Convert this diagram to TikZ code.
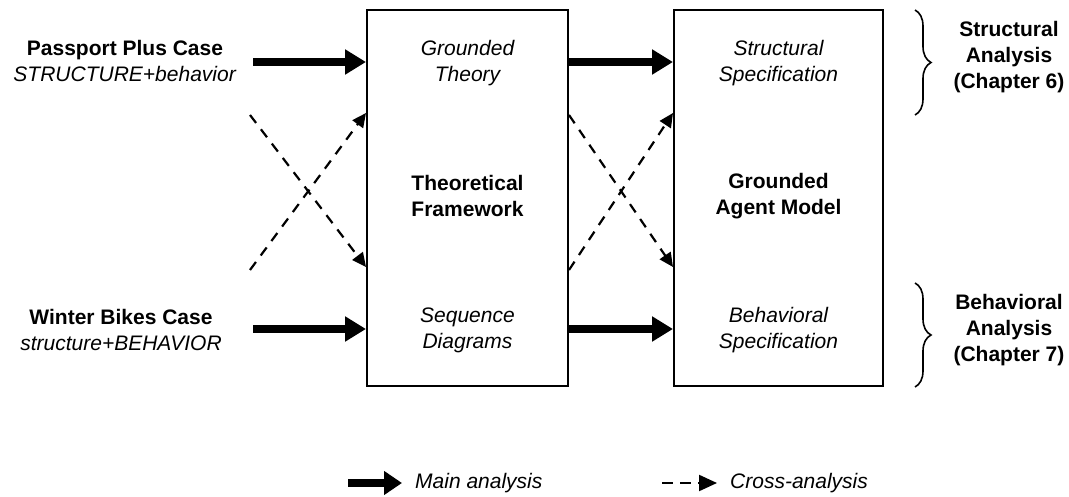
\documentclass[tikz,border=0pt]{standalone}
\usepackage{fontspec}
\setmainfont{Liberation Sans}
\usetikzlibrary{arrows.meta,decorations.pathreplacing}
\begin{document}
\begin{tikzpicture}[x=1pt,y=-1pt,
  txt/.style={font=\fontsize{21}{26}\selectfont, align=center, inner sep=0pt},
  btxt/.style={txt, font=\fontsize{21}{26}\selectfont\bfseries},
  itxt/.style={txt, font=\fontsize{21}{26}\selectfont\itshape},
  stage/.style={draw, line width=2pt, inner sep=0pt, minimum height=376pt},
  mainarrow/.style={line width=8pt, -{Triangle[length=21pt,width=24pt]}},
  crossarrow/.style={line width=2.2pt, dash pattern=on 10pt off 8pt, -{Triangle[length=14pt,width=13pt]}},
  bracestyle/.style={line width=1.6pt, decorate, decoration={brace, amplitude=16pt}}
]
\useasboundingbox (0,0) rectangle (1069,497);

% the two stage boxes
\node[stage, minimum width=201pt] (frame) at (467.5,198) {};
\node[stage, minimum width=209pt] (model) at (778.5,198) {};

% case labels on the left
\node[txt] (pp) at (125,61) {\textbf{Passport Plus Case}\\\textit{STRUCTURE+behavior}};
\node[txt] (wb) at (121,330) {\textbf{Winter Bikes Case}\\\textit{structure+BEHAVIOR}};

% texts inside the boxes
\node[itxt] (gt) at (467.5,63) {Grounded\\Theory};
\node[btxt] (tf) at (467.5,196) {Theoretical\\Framework};
\node[itxt] (sd) at (467.5,330) {Sequence\\Diagrams};
\node[itxt] (ss) at (778.5,63) {Structural\\Specification};
\node[btxt] (ga) at (778.5,196) {Grounded\\Agent Model};
\node[itxt] (bs) at (778.5,330) {Behavioral\\Specification};

% main analysis arrows
\coordinate (ppout) at (253,62);
\coordinate (wbout) at (253,329);
\draw[mainarrow] (ppout) -- (ppout -| frame.west);
\draw[mainarrow] (wbout) -- (wbout -| frame.west);
\draw[mainarrow] (frame.east |- ppout) -- (model.west |- ppout);
\draw[mainarrow] (frame.east |- wbout) -- (model.west |- wbout);

% cross-analysis arrows
\coordinate (xa) at (250,115);
\coordinate (xb) at (250,270);
\coordinate (hi) at (0,113);
\coordinate (lo) at (0,267);
\draw[crossarrow] (xa) -- (frame.west |- lo);
\draw[crossarrow] (xb) -- (frame.west |- hi);
\draw[crossarrow] (frame.east |- xa) -- (model.west |- lo);
\draw[crossarrow] (frame.east |- xb) -- (model.west |- hi);

% braces and chapter labels
\coordinate (b1t) at (915,10);
\coordinate (b1b) at (915,115);
\coordinate (b2t) at (915,283);
\coordinate (b2b) at (915,387);
\draw[bracestyle] (b1t) -- (b1b);
\draw[bracestyle] (b2t) -- (b2b);
\node[btxt] (sa) at (1009,57) {Structural\\Analysis\\(Chapter 6)};
\node[btxt] (ba) at (1009,330) {Behavioral\\Analysis\\(Chapter 7)};

% legend
\coordinate (lm1) at (348,483);
\coordinate (lm2) at (402,483);
\coordinate (lc1) at (662,483);
\coordinate (lc2) at (717,483);
\draw[mainarrow, -{Triangle[length=18pt,width=23pt]}] (lm1) -- (lm2);
\node[itxt, anchor=west] (lmt) at (415,483) {Main analysis};
\draw[line width=2.2pt, dash pattern=on 11pt off 7pt, -{Triangle[length=18pt,width=16pt]}] (lc1) -- (lc2);
\node[itxt, anchor=west] (lct) at (730,483) {Cross-analysis};
\end{tikzpicture}
\end{document}
